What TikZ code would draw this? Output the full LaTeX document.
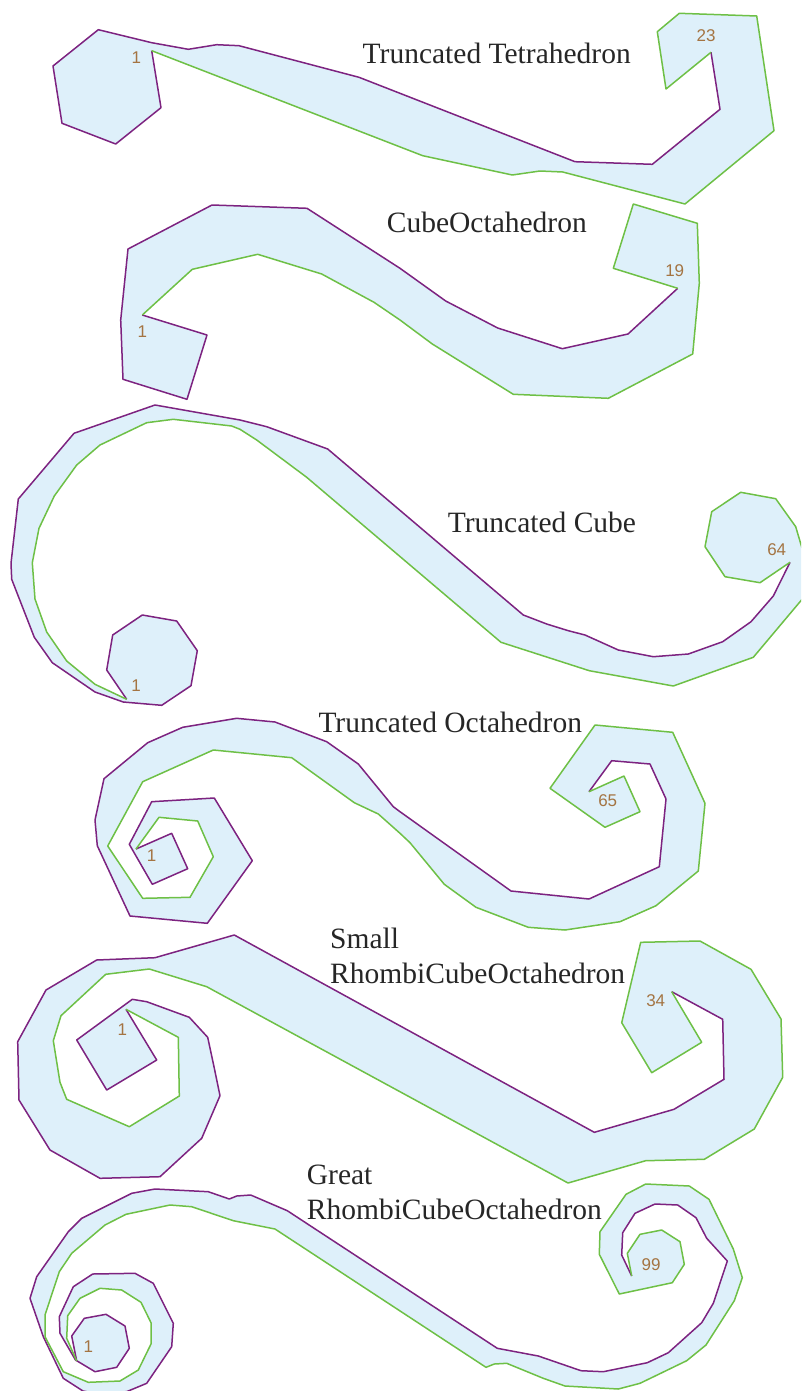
\documentclass[tikz,border=0pt]{standalone}
\usepackage{fontspec}
\setmainfont{Liberation Serif}
\newfontfamily\digitfont{Liberation Sans}
\usepackage{tikz}
\definecolor{bandfill}{RGB}{222,240,250}
\definecolor{bandpurple}{RGB}{125,35,128}
\definecolor{bandgreen}{RGB}{110,192,70}
\definecolor{numbrown}{RGB}{164,116,66}
\tikzset{
band/.style={fill=bandfill},
purpleline/.style={draw=bandpurple, line width=1.5pt, line join=round},
greenline/.style={draw=bandgreen, line width=1.5pt, line join=round},
polytitle/.style={anchor=base west, inner sep=0pt, align=left, text=black!85, font=\fontsize{29.5}{35}\selectfont},
facenum/.style={inner sep=0pt, text=numbrown, font=\digitfont\fontsize{17}{19}\selectfont}}

\begin{document}
\begin{tikzpicture}[x=1pt,y=-1pt]
\useasboundingbox (0,0) rectangle (801,1391);
\clip (0,0) rectangle (801,1391);

\def\tetP{(151.7,50.7) -- (161,107.7) -- (115.7,144) -- (62,123.3) -- (53,66) -- (98.3,29.7) -- (151.7,42.7) -- (188.3,49.3) -- (216.7,44.7) -- (239,45.7) -- (359,77.3) -- (575,161.7) -- (652.3,164.3) -- (720,109.3) -- (711,52.3)}
\def\tetG{(711,52.3) -- (666,89) -- (657.3,31.7) -- (679.3,13.3) -- (756.7,16) -- (774,130.7) -- (685,204) -- (562.7,172) -- (540,171) -- (512.3,175) -- (422.7,155.7) -- (151.7,50.7)}
\fill[band] \tetP -- \tetG -- cycle;
\draw[purpleline] \tetP;
\draw[greenline] \tetG;

\def\cuoP{(142.3,315) -- (207,335) -- (187,399.3) -- (123,379.3) -- (120.7,320) -- (128,249) -- (212,205) -- (307,208.3) -- (400,268.3) -- (445.7,301) -- (497.7,328) -- (562.3,348.7) -- (628,334) -- (677.7,288.3)}
\def\cuoG{(677.7,288.3) -- (613.3,268.3) -- (633.3,204) -- (697.3,223.3) -- (699.3,283.3) -- (692.7,354) -- (608.3,398.3) -- (513.3,394.3) -- (432.3,344) -- (400,320) -- (374,302.3) -- (321.7,274) -- (257.7,254.3) -- (192.3,269.3) -- (142.3,315)}
\fill[band] \cuoP -- \cuoG -- cycle;
\draw[purpleline] \cuoP;
\draw[greenline] \cuoG;

\def\trcP{(126.7,699.3) -- (106.7,670) -- (112.7,635) -- (142.3,615) -- (176.7,621) -- (197.3,650.7) -- (191,685.7) -- (161.7,705.3) -- (123.3,702) -- (95,692) -- (52.3,662.7) -- (34.3,637.3) -- (11.7,579.3) -- (11,563.3) -- (18.3,499) -- (74,433.3) -- (155,405) -- (240,420) -- (266.7,426.7) -- (327.7,449) -- (523.3,615) -- (546.7,624) -- (568.3,630.7) -- (585,635) -- (618.3,650) -- (653.3,656.7) -- (688.3,654) -- (722.7,641.7) -- (751,621.7) -- (773.3,596) -- (790,562.3)}
\def\trcG{(790,562.3) -- (760,582.7) -- (725,576.7) -- (705,546.7) -- (711.7,511.7) -- (740.7,492.3) -- (775.7,498.7) -- (795.7,526.7) -- (807,565) -- (804,597) -- (753.3,657.3) -- (673.3,686) -- (589.3,670.7) -- (501,642.3) -- (306.7,477.3) -- (256.7,440) -- (240,429.3) -- (231.7,426) -- (173.3,419.3) -- (146.7,422.7) -- (100,445) -- (76.7,465) -- (54.3,496) -- (39,528.3) -- (32.3,562.7) -- (35,599) -- (46.7,632) -- (66.7,661) -- (95,684.3) -- (126.7,699.3)}
\fill[band] \trcP -- \trcG -- cycle;
\draw[purpleline] \trcP;
\draw[greenline] \trcG;

\def\troP{(136,849) -- (171.7,833.3) -- (187.7,868.7) -- (152.3,884.3) -- (129.3,844.3) -- (151.7,801.7) -- (214.3,798) -- (252.3,860.7) -- (207.3,923.3) -- (130,916) -- (97.3,845.7) -- (95,820) -- (104,778.7) -- (147.7,742.7) -- (182.7,727.3) -- (236.7,718.3) -- (275,722) -- (326.7,741.7) -- (358.3,764) -- (393.3,806.7) -- (400,811.7) -- (511,891) -- (589,899) -- (659.3,866.7) -- (666,799) -- (650,764) -- (611.7,760.7) -- (589,791.7)}
\def\troG{(589,791.7) -- (624,776) -- (640,811.7) -- (605,827.3) -- (550,788.3) -- (595,725) -- (672.7,732.3) -- (705,803.3) -- (698.3,871) -- (656,905.7) -- (620,921.7) -- (565,930) -- (528.3,927.3) -- (476,907.3) -- (444.3,884.3) -- (410,842.7) -- (400,833.3) -- (378.3,814) -- (354.3,802.7) -- (291.7,757.7) -- (213.3,750) -- (142.7,781.7) -- (107.7,846) -- (142.7,898.3) -- (190,897.3) -- (213.3,856.7) -- (197.7,821) -- (159,817.3) -- (136,849)}
\fill[band] \troP -- \troG -- cycle;
\draw[purpleline] \troP;
\draw[greenline] \troG;

\def\srcP{(126,1009.3) -- (156.7,1060) -- (106.7,1090) -- (76.7,1040) -- (132.3,999.3) -- (146.7,1001.7) -- (189.3,1017.3) -- (207.7,1037.3) -- (214,1066.7) -- (220,1095.7) -- (201.7,1138.3) -- (160,1176.7) -- (100,1178.3) -- (50,1150) -- (19,1100) -- (17.7,1041.7) -- (46,990) -- (96.7,960) -- (155,957.7) -- (234.3,935) -- (594.3,1132.3) -- (674,1109.3) -- (724,1079.3) -- (722.7,1019.3) -- (671.7,991.7)}
\def\srcG{(671.7,991.7) -- (701.7,1042.3) -- (651.7,1072.7) -- (621.7,1022.7) -- (640.7,942.3) -- (700,941) -- (751,969.3) -- (781,1019) -- (782.7,1077.3) -- (754.3,1129) -- (704.3,1159.3) -- (645.7,1160.7) -- (568,1183) -- (206.7,986.7) -- (149.3,969) -- (105.7,974.3) -- (61,1015.7) -- (53.3,1040.7) -- (60,1082.3) -- (66.7,1099.3) -- (129.3,1126.7) -- (179.3,1096) -- (178.3,1037.3) -- (126,1009.3)}
\fill[band] \srcP -- \srcG -- cycle;
\draw[purpleline] \srcP;
\draw[greenline] \srcG;

\def\grcP{(76.7,1361) -- (71.7,1336) -- (84.3,1318.3) -- (106,1314.3) -- (125,1326) -- (129.3,1348.3) -- (116.7,1367.3) -- (95,1371.7) -- (75.5,1360) -- (60,1333.3) -- (59.3,1316.7) -- (73.3,1286.7) -- (92.7,1274) -- (135,1273.3) -- (153.3,1283.3) -- (173.3,1323.3) -- (171.7,1346.7) -- (146.7,1383.3) -- (127,1391.5) -- (104,1395) -- (83,1391) -- (63.3,1378.3) -- (43.3,1336.7) -- (30,1298.3) -- (36.7,1276.7) -- (68.3,1231.7) -- (81.7,1218.3) -- (131.7,1193.3) -- (155,1189) -- (208.3,1191.7) -- (229.3,1199) -- (236.7,1196) -- (250.7,1195) -- (287.3,1210.7) -- (497.3,1348.3) -- (538.3,1356) -- (581,1370.7) -- (603.3,1371.7) -- (647.3,1362.7) -- (668.3,1352.7) -- (701.7,1322.7) -- (713.3,1303.3) -- (727.3,1261) -- (706.7,1238.3) -- (696,1217.7) -- (677.7,1205) -- (655,1204) -- (635,1213.3) -- (622.7,1232.7) -- (621.7,1255) -- (631.7,1276)}
\def\grcG{(631.7,1276) -- (627.3,1253.3) -- (640,1234.3) -- (661.7,1230) -- (680,1241.7) -- (684.3,1264.3) -- (672.3,1282.7) -- (619.3,1294) -- (599.3,1254.3) -- (600,1231.7) -- (626,1194.3) -- (645.7,1184) -- (689.3,1186) -- (709,1199.3) -- (733.3,1249) -- (742.3,1277.7) -- (734.3,1300.7) -- (706,1345) -- (686.7,1360.7) -- (640,1383.3) -- (618.3,1389) -- (565,1386) -- (543.3,1378.3) -- (506.7,1363.3) -- (494.3,1364) -- (486,1367.3) -- (275,1229) -- (233.3,1220.7) -- (191.7,1206.7) -- (170,1205) -- (126,1214.3) -- (105,1225) -- (71.7,1253.3) -- (59.3,1271.7) -- (45,1315) -- (45,1336.7) -- (63.3,1371.7) -- (88.3,1382.3) -- (120,1381) -- (138.3,1370) -- (151,1344) -- (151,1322.7) -- (141,1302.3) -- (121.7,1290) -- (100,1288.3) -- (80,1298.3) -- (67.7,1315.7) -- (66.7,1338.3) -- (76.7,1361)}
\fill[band] \grcP -- \grcG -- cycle;
\draw[purpleline] \grcP;
\draw[greenline] \grcG;

\node (tettitle) [polytitle] at (362.5,63.3) {Truncated Tetrahedron};
\node (cuotitle) [polytitle] at (386.7,232.3) {CubeOctahedron};
\node (trctitle) [polytitle] at (447.7,532.3) {Truncated Cube};
\node (trotitle) [polytitle] at (318.3,732.3) {Truncated Octahedron};
\node (srctitle) [polytitle] at (330,983.3) {Small\\RhombiCubeOctahedron};
\node (grctitle) [polytitle] at (306.7,1219.3) {Great\\RhombiCubeOctahedron};

\node (tetfirst) [facenum] at (136.3,57.3) {1};
\node (tetlast) [facenum] at (706,36) {23};
\node (cuofirst) [facenum] at (142.3,331.7) {1};
\node (cuolast) [facenum] at (674.7,270.3) {19};
\node (trcfirst) [facenum] at (136,686) {1};
\node (trclast) [facenum] at (776.7,549.3) {64};
\node (trofirst) [facenum] at (151.7,855.3) {1};
\node (trolast) [facenum] at (607.7,801) {65};
\node (srcfirst) [facenum] at (122.3,1029.3) {1};
\node (srclast) [facenum] at (655.7,1001) {34};
\node (grcfirst) [facenum] at (88.3,1346.7) {1};
\node (grclast) [facenum] at (651,1265) {99};
\end{tikzpicture}
\end{document}
